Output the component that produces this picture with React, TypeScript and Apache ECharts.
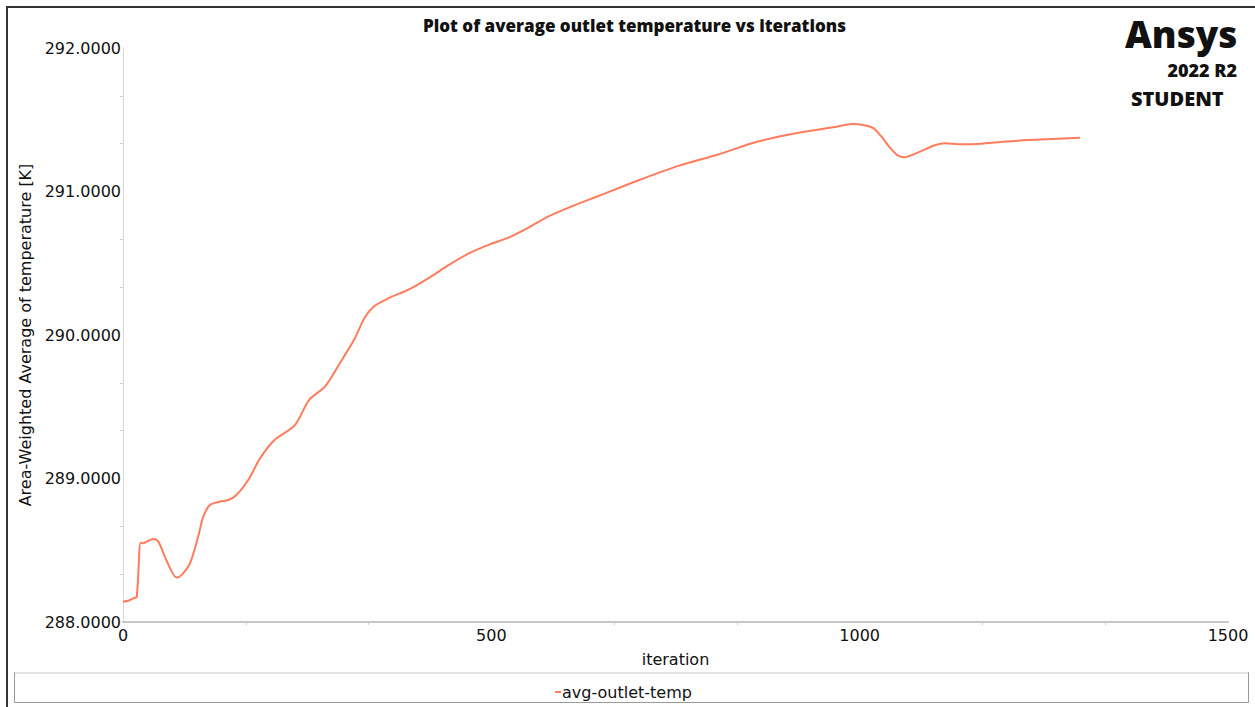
import React, { useEffect, useRef } from "react";
import * as echarts from "echarts";

const iterations = [0, 8, 14, 18.6, 24, 27.5, 32, 41, 48, 59, 73, 80, 91, 102, 109, 118, 131, 143, 154, 170, 186, 206, 233, 253, 274, 294, 314, 328, 341, 362, 389, 416, 443, 470, 497, 524, 551, 579, 606, 646, 701, 755, 809, 863, 917, 967, 990, 1008, 1019, 1030, 1042, 1051, 1060, 1071, 1089, 1103, 1116, 1134, 1152, 1179, 1215, 1261, 1299];
const temps = [288.141, 288.15, 288.165, 288.176, 288.553, 288.548, 288.56, 288.578, 288.56, 288.43, 288.31, 288.33, 288.41, 288.594, 288.734, 288.815, 288.838, 288.85, 288.885, 288.99, 289.14, 289.27, 289.37, 289.55, 289.64, 289.8, 289.97, 290.12, 290.2, 290.26, 290.32, 290.4, 290.49, 290.57, 290.63, 290.68, 290.75, 290.83, 290.89, 290.97, 291.08, 291.18, 291.26, 291.35, 291.41, 291.45, 291.47, 291.46, 291.44, 291.38, 291.3, 291.254, 291.238, 291.254, 291.294, 291.324, 291.336, 291.33, 291.33, 291.34, 291.354, 291.366, 291.375];
const yTicks = [288, 289, 290, 291, 292];
const seriesName = "avg-outlet-temp";
const titleText = "Plot of average outlet temperature vs iterations";

export default function App() {
  const ref = useRef<HTMLDivElement>(null);
  useEffect(() => {
    document.body.style.margin = "0";
    const chart = echarts.init(ref.current!, null, { renderer: "svg" });
    const data = iterations.map((x, i) => [x, temps[i]]);
    const font = "DejaVu Sans";
    chart.setOption({
      animation: false,
      backgroundColor: "#ffffff",
      title: {
        text: titleText,
        left: 418,
        top: 12,
        textStyle: { fontFamily: "Open Sans", fontWeight: 800, fontSize: 17, color: "#111" },
      },
      grid: { left: 123, right: 27, top: 48, bottom: 85 },
      legend: {
        left: 550,
        top: 679,
        icon: "rect",
        itemWidth: 6,
        itemHeight: 2,
        itemGap: 10,
        textStyle: { fontFamily: font, fontSize: 16, color: "#111", padding: [0, 0, 0, -4] },
        data: [seriesName],
      },
      xAxis: {
        type: "value",
        min: 0,
        max: 1500,
        interval: 500,
        name: "iteration",
        nameLocation: "middle",
        nameGap: 29,
        nameTextStyle: { fontFamily: font, fontSize: 16, color: "#111" },
        axisLine: { lineStyle: { color: "#c6c6c6", width: 2 } },
        axisTick: { show: false },
        minorTick: { show: true, splitNumber: 3, length: 3, lineStyle: { color: "#cccccc" } },
        splitLine: { show: false },
        axisLabel: {
          fontFamily: font,
          fontSize: 16,
          color: "#111",
          margin: 5,
          formatter: (v: number) => String(v),
        },
      },
      yAxis: {
        type: "value",
        min: yTicks[0],
        max: yTicks[yTicks.length - 1],
        interval: 1,
        name: "Area-Weighted Average of temperature [K]",
        nameLocation: "middle",
        nameGap: 87,
        nameTextStyle: { fontFamily: font, fontSize: 16, color: "#111" },
        axisLine: { show: true, lineStyle: { color: "#d8d8d8", width: 1 } },
        axisTick: { show: false },
        minorTick: { show: true, splitNumber: 3, length: 3, lineStyle: { color: "#d0d0d0" } },
        splitLine: { show: false },
        axisLabel: {
          fontFamily: font,
          fontSize: 16,
          color: "#111",
          margin: 2,
          formatter: (v: number) => v.toFixed(4),
        },
      },
      series: [
        {
          name: seriesName,
          type: "line",
          data,
          smooth: 0.3,
          showSymbol: false,
          symbol: "none",
          lineStyle: { color: "#ff7c5c", width: 2 },
          itemStyle: { color: "#ff7c5c" },
        },
      ],
      graphic: [
        {
          type: "polyline",
          shape: { points: [[7, 707], [7, 7], [1255, 7]] },
          style: { stroke: "#333", lineWidth: 2, fill: "none" },
          silent: true,
        },
        {
          type: "rect",
          shape: { x: 14.5, y: 672.5, width: 1234, height: 30 },
          style: { stroke: "#9a9a9a", lineWidth: 1, fill: "none" },
          silent: true,
        },
        {
          type: "line",
          shape: { x1: 15, y1: 673, x2: 1248, y2: 673 },
          style: { stroke: "#e2e2e2", lineWidth: 2 },
          silent: true,
        },
        {
          type: "text",
          left: 1125,
          top: 15,
          style: { text: "Ansys", font: "800 37px 'Open Sans'", fill: "#111" },
        },
        {
          type: "text",
          right: 18,
          top: 61,
          style: { text: "2022 R2", font: "800 18px 'Open Sans'", fill: "#111" },
        },
        {
          type: "text",
          left: 1131,
          top: 88,
          style: { text: "STUDENT", font: "800 20px 'Open Sans'", fill: "#111" },
        },
      ],
    });
    return () => chart.dispose();
  }, []);
  return <div ref={ref} style={{ width: 1255, height: 707 }} />;
}
